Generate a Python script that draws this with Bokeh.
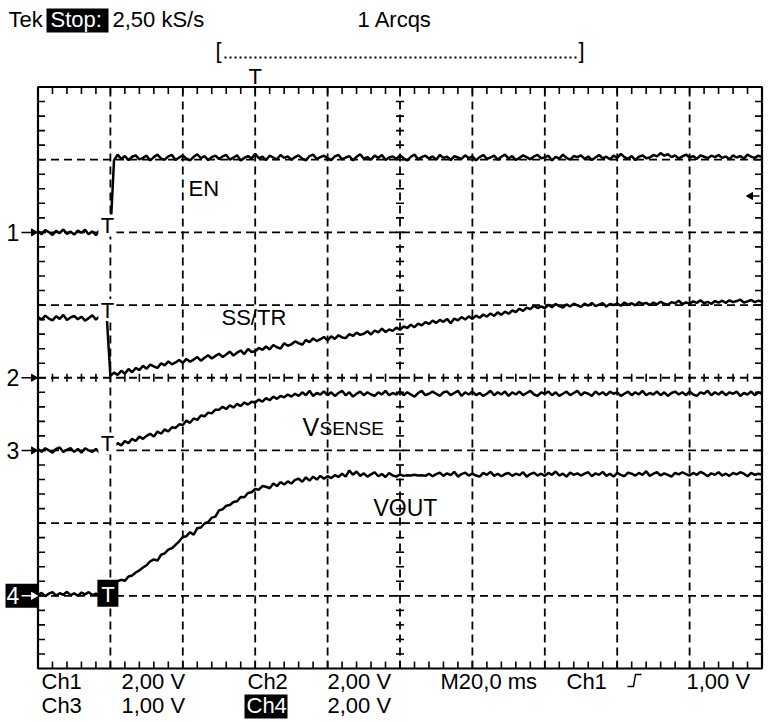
import numpy as np
from bokeh.plotting import figure
from bokeh.core.properties import value
from bokeh.embed import file_html
from bokeh.resources import INLINE

# ---------------- data ----------------
T_MS = list(range(-20, 181))  # sample times in ms, trigger at 0

EN_V = [
    0.03, -0.05, 0.06, 0.01, -0.07, 0.04, -0.02, 0.08, -0.04, 0.02,
    -0.06, 0.05, -0.01, 0.07, -0.05, 0.03, -0.08, 0.06, -0.02, 0.03,
    0.00, 1.98, 2.14, 2.02, 2.10, 1.99, 2.08, 2.12, 2.01, 2.05,
    2.11, 1.98, 2.07, 2.14, 2.03, 2.00, 2.09, 2.13, 1.99, 2.06,
    2.12, 2.03, 1.98, 2.08, 2.15, 2.04, 2.10, 1.99, 2.07, 2.11,
    2.02, 2.09, 2.13, 2.00, 2.06, 2.12, 1.98, 2.05, 2.10, 2.03,
    2.16, 2.04, 2.08, 1.99, 2.11, 2.06, 2.01, 2.13, 2.05, 2.09,
    2.00, 2.07, 2.12, 2.03, 1.98, 2.10, 2.14, 2.02, 2.07, 2.11,
    2.04, 1.99, 2.09, 2.13, 2.01, 2.06, 2.10, 1.98, 2.08, 2.15,
    2.03, 2.07, 2.00, 2.11, 2.05, 2.13, 1.99, 2.06, 2.09, 2.02,
    2.12, 2.04, 1.98, 2.08, 2.14, 2.01, 2.07, 2.11, 2.03, 2.09,
    2.00, 2.13, 2.05, 2.08, 1.99, 2.10, 2.06, 2.02, 2.12, 2.04,
    2.09, 1.98, 2.07, 2.13, 2.02, 2.06, 2.11, 2.00, 2.08, 2.14,
    2.03, 2.10, 1.99, 2.05, 2.12, 2.07, 2.01, 2.09, 2.13, 2.04,
    2.06, 2.11, 1.98, 2.08, 2.03, 2.14, 2.05, 2.00, 2.10, 2.07,
    2.12, 2.02, 2.09, 1.99, 2.06, 2.13, 2.04, 2.08, 2.01, 2.11,
    2.05, 2.16, 2.07, 2.02, 2.10, 1.99, 2.08, 2.12, 2.04, 2.06,
    2.13, 2.09, 2.18, 2.11, 2.15, 2.07, 2.12, 2.03, 2.09, 2.14,
    2.06, 2.10, 2.02, 2.12, 2.08, 2.04, 2.11, 2.07, 2.13, 2.05,
    2.09, 2.01, 2.12, 2.06, 2.10, 2.03, 2.14, 2.08, 2.05, 2.11,
    2.07,
]

SSTR_V = [
    1.67, 1.60, 1.71, 1.63, 1.58, 1.69, 1.62, 1.73, 1.59, 1.66,
    1.70, 1.61, 1.68, 1.57, 1.64, 1.72, 1.60, 1.69, 1.62, 1.66,
    0.05, 0.14, 0.08, 0.19, 0.11, 0.24, 0.15, 0.27, 0.21, 0.33,
    0.25, 0.36, 0.31, 0.27, 0.40, 0.34, 0.45, 0.37, 0.42, 0.49,
    0.41, 0.52, 0.44, 0.50, 0.57, 0.47, 0.55, 0.62, 0.53, 0.60,
    0.66, 0.57, 0.64, 0.72, 0.61, 0.69, 0.75, 0.65, 0.79, 0.71,
    0.73, 0.82, 0.77, 0.86, 0.78, 0.90, 0.84, 0.80, 0.95, 0.88,
    0.92, 1.00, 0.95, 0.91, 1.04, 0.98, 1.08, 1.01, 1.06, 1.12,
    1.03, 1.14, 1.07, 1.17, 1.11, 1.09, 1.20, 1.15, 1.24, 1.18,
    1.21, 1.28, 1.19, 1.30, 1.25, 1.35, 1.26, 1.33, 1.29, 1.38,
    1.32, 1.41, 1.37, 1.46, 1.39, 1.49, 1.44, 1.53, 1.48, 1.57,
    1.51, 1.59, 1.54, 1.62, 1.50, 1.63, 1.58, 1.67, 1.60, 1.69,
    1.62, 1.71, 1.65, 1.74, 1.68, 1.77, 1.70, 1.80, 1.73, 1.82,
    1.76, 1.85, 1.81, 1.90, 1.84, 1.93, 1.89, 1.98, 1.92, 1.96,
    1.92, 2.01, 1.94, 2.03, 1.97, 1.93, 2.02, 1.96, 2.04, 1.99,
    1.95, 2.04, 1.98, 2.06, 1.97, 2.01, 2.05, 1.96, 2.03, 2.00,
    2.04, 1.98, 2.07, 2.01, 2.05, 1.99, 2.08, 2.03, 2.06, 2.00,
    2.07, 2.02, 2.09, 2.04, 2.01, 2.08, 2.05, 2.12, 2.03, 2.07,
    2.04, 2.10, 2.06, 2.13, 2.05, 2.09, 2.03, 2.11, 2.07, 2.12,
    2.06, 2.13, 2.08, 2.11, 2.15, 2.07, 2.10, 2.14, 2.08, 2.12,
    2.10,
]

VSENSE_V = [
    0.02, -0.02, 0.03, 0.00, -0.03, 0.02, 0.04, -0.02, 0.01, 0.03,
    -0.02, 0.02, -0.03, 0.03, 0.00, -0.02, 0.02, -0.03, -0.02, -0.04,
    0.01, 0.06, 0.10, 0.07, 0.13, 0.10, 0.16, 0.13, 0.19, 0.16,
    0.20, 0.23, 0.19, 0.26, 0.23, 0.29, 0.26, 0.32, 0.31, 0.36,
    0.35, 0.41, 0.38, 0.44, 0.42, 0.48, 0.47, 0.52, 0.51, 0.56,
    0.56, 0.60, 0.57, 0.62, 0.59, 0.64, 0.61, 0.66, 0.63, 0.67,
    0.66, 0.70, 0.67, 0.72, 0.69, 0.74, 0.71, 0.75, 0.73, 0.77,
    0.74, 0.78, 0.75, 0.80, 0.76, 0.82, 0.75, 0.79, 0.77, 0.81,
    0.76, 0.80, 0.75, 0.79, 0.82, 0.76, 0.80, 0.74, 0.78, 0.81,
    0.76, 0.80, 0.77, 0.75, 0.80, 0.77, 0.82, 0.76, 0.79, 0.77,
    0.81, 0.76, 0.80, 0.77, 0.74, 0.79, 0.82, 0.76, 0.78, 0.81,
    0.78, 0.75, 0.80, 0.81, 0.76, 0.79, 0.82, 0.75, 0.80, 0.77,
    0.81, 0.76, 0.79, 0.75, 0.78, 0.82, 0.76, 0.80, 0.77, 0.81,
    0.75, 0.80, 0.77, 0.81, 0.76, 0.79, 0.82, 0.77, 0.75, 0.80,
    0.78, 0.81, 0.76, 0.80, 0.75, 0.78, 0.81, 0.76, 0.79, 0.82,
    0.76, 0.80, 0.78, 0.75, 0.81, 0.77, 0.80, 0.76, 0.81, 0.78,
    0.80, 0.75, 0.78, 0.81, 0.76, 0.80, 0.77, 0.82, 0.76, 0.79,
    0.77, 0.81, 0.76, 0.80, 0.75, 0.79, 0.81, 0.77, 0.80, 0.76,
    0.81, 0.77, 0.75, 0.80, 0.78, 0.82, 0.76, 0.80, 0.77, 0.81,
    0.76, 0.80, 0.78, 0.81, 0.75, 0.79, 0.77, 0.81, 0.76, 0.80,
    0.78,
]

VOUT_V = [
    0.02, 0.08, -0.01, 0.06, 0.10, 0.01, 0.07, 0.03, 0.11, 0.02,
    0.07, 0.00, 0.09, 0.04, 0.10, 0.02, 0.06, -0.01, 0.08, 0.04,
    0.15, 0.30, 0.40, 0.44, 0.41, 0.53, 0.56, 0.64, 0.70, 0.78,
    0.84, 0.95, 1.00, 0.97, 1.13, 1.17, 1.27, 1.31, 1.40, 1.50,
    1.62, 1.64, 1.75, 1.68, 1.86, 1.88, 1.99, 2.03, 2.15, 2.18,
    2.35, 2.38, 2.48, 2.50, 2.58, 2.60, 2.72, 2.71, 2.83, 2.85,
    2.94, 2.92, 3.02, 3.00, 2.96, 3.09, 3.02, 3.13, 3.06, 3.15,
    3.09, 3.19, 3.22, 3.14, 3.26, 3.17, 3.28, 3.20, 3.30, 3.22,
    3.29, 3.24, 3.32, 3.27, 3.36, 3.28, 3.45, 3.33, 3.42, 3.30,
    3.37, 3.28, 3.34, 3.40, 3.29, 3.35, 3.27, 3.38, 3.31, 3.28,
    3.34, 3.30, 3.32, 3.31, 3.33, 3.31, 3.32, 3.30, 3.36, 3.29,
    3.35, 3.39, 3.30, 3.37, 3.32, 3.41, 3.28, 3.35, 3.39, 3.31,
    3.36, 3.31, 3.28, 3.38, 3.33, 3.41, 3.30, 3.36, 3.29, 3.35,
    3.38, 3.30, 3.36, 3.32, 3.40, 3.28, 3.35, 3.39, 3.31, 3.36,
    3.30, 3.38, 3.33, 3.42, 3.31, 3.36, 3.28, 3.39, 3.33, 3.37,
    3.31, 3.36, 3.40, 3.29, 3.37, 3.33, 3.41, 3.30, 3.36, 3.28,
    3.38, 3.33, 3.29, 3.39, 3.36, 3.31, 3.38, 3.33, 3.43, 3.30,
    3.36, 3.40, 3.31, 3.37, 3.33, 3.28, 3.38, 3.34, 3.40, 3.35,
    3.31, 3.38, 3.33, 3.41, 3.36, 3.29, 3.37, 3.33, 3.40, 3.31,
    3.36, 3.30, 3.38, 3.34, 3.40, 3.36, 3.29, 3.38, 3.33, 3.36,
    3.34,
]

CH_NAMES = ["Ch1", "Ch2", "Ch3", "Ch4"]
CH_VOLTS_PER_DIV = [2.0, 2.0, 1.0, 2.0]
CH_GROUND_DIV = [6, 4, 3, 1]
CH_MARKERS = ["1", "2", "3", "4"]
TRACE_VALUES = [EN_V, SSTR_V, VSENSE_V, VOUT_V]
MS_PER_DIV = 20.0
TIME_START_MS = -20
TRIGGER_MS = 0
TRIGGER_LEVEL_V = 1.0
TOP_MARKER_MS = 40
H_DIVS = 10
V_DIVS = 8

# ---------------- layout ----------------
W, H = 773, 722
BOX_L, BOX_R, BOX_T, BOX_B = 37.5, 761.5, 86.5, 668.0  # graticule in px
PX_MS = (BOX_R - BOX_L) / (H_DIVS * MS_PER_DIV)
PX_DIV = (BOX_B - BOX_T) / V_DIVS


def X(px):
    return TIME_START_MS + (px - BOX_L) / PX_MS


def Y(py):
    return (BOX_B - py) / PX_DIV


def px_of_t(t):
    return BOX_L + (t - TIME_START_MS) * PX_MS


def py_of_div(d):
    return BOX_B - d * PX_DIV


T_END = TIME_START_MS + H_DIVS * MS_PER_DIV

p = figure(width=W, height=H, x_range=(X(0), X(W)),
           y_range=(Y(H), Y(0)), output_backend="svg",
           toolbar_location=None, x_axis_type=None, y_axis_type=None,
           min_border=0)
p.outline_line_color = None
p.background_fill_color = "white"
p.border_fill_color = "white"

FONT = value("Liberation Sans")


def txt(px, py, s, size=22, color="black", align="left"):
    # py is the baseline in px; drawn with a middle baseline
    p.text(x=[X(px)], y=[Y(py - 0.346 * size)], text=[s], text_font=FONT,
           text_font_size=f"{size}px", text_color=color,
           text_align=align, text_baseline="middle")


def box(l, t, r, b, color="black"):
    p.quad(left=[X(l)], right=[X(r)], top=[Y(t)], bottom=[Y(b)],
           fill_color=color, line_color=None)


# ---- dashed graticule ----
gx = [TIME_START_MS + i * MS_PER_DIV for i in range(1, H_DIVS)]
gy = list(range(1, V_DIVS))
p.segment(x0=gx, y0=[0] * len(gx), x1=gx, y1=[V_DIVS] * len(gx),
          line_color="black", line_width=1.8, line_dash="8 5")
p.segment(x0=[TIME_START_MS] * len(gy), y0=gy, x1=[T_END] * len(gy), y1=gy,
          line_color="black", line_width=1.8, line_dash="8 5")

# ---- minor ticks on border and center lines ----
tx = [TIME_START_MS + k * MS_PER_DIV / 5 for k in range(1, H_DIVS * 5)]
ty = [k / 5 for k in range(1, V_DIVS * 5)]
dlx = 7 / PX_MS
dly = 7 / PX_DIV
clx = 4 / PX_MS
cly = 4 / PX_DIV
x0, y0, x1, y1 = [], [], [], []
for t in tx:
    x0 += [t, t, t]
    x1 += [t, t, t]
    y0 += [V_DIVS, 0, V_DIVS / 2 - cly]
    y1 += [V_DIVS - dly, dly, V_DIVS / 2 + cly]
tc = TIME_START_MS + H_DIVS / 2 * MS_PER_DIV
for d in ty:
    y0 += [d, d, d]
    y1 += [d, d, d]
    x0 += [TIME_START_MS, T_END, tc - clx]
    x1 += [TIME_START_MS + dlx, T_END - dlx, tc + clx]
p.segment(x0=x0, y0=y0, x1=x1, y1=y1, line_color="black", line_width=1.6)

# ---- border ----
p.quad(left=[TIME_START_MS], right=[T_END], bottom=[0], top=[V_DIVS],
       fill_color=None, line_color="black", line_width=2.2)

# ---- traces ----
for vals, g, s in zip(TRACE_VALUES, CH_GROUND_DIV, CH_VOLTS_PER_DIV):
    yv = g + np.array(vals) / s
    p.line(T_MS, yv, line_color="black", line_width=2.5)

# ---- trigger 'T' markers on traces ----
trig_px = px_of_t(TRIGGER_MS)
pre_level_py = [py_of_div(CH_GROUND_DIV[0]),
                py_of_div(CH_GROUND_DIV[1] + SSTR_V[0] / CH_VOLTS_PER_DIV[1]),
                py_of_div(CH_GROUND_DIV[2])]
for lvl in pre_level_py:
    box(trig_px - 12, lvl - 18, trig_px + 6, lvl + 4, "white")
    txt(trig_px - 3, lvl + 1, "T", 22, align="center")
g4 = py_of_div(CH_GROUND_DIV[3])
box(trig_px - 13, g4 - 16, trig_px + 8, g4 + 11)
txt(trig_px - 2.5, g4 + 6, "T", 22, "white", align="center")

# ---- channel ground markers on the left ----
for i, (m, g) in enumerate(zip(CH_MARKERS, CH_GROUND_DIV)):
    gpy = py_of_div(g)
    col = "white" if i == 3 else "black"
    if i == 3:
        box(5, gpy - 12, 37, gpy + 12)
    txt(6, gpy + 8, m, 23, col)
    p.segment(x0=[X(21)], y0=[g], x1=[X(33)], y1=[g], line_color=col,
              line_width=1.5)
    p.scatter(x=[X(33)], y=[g], marker="triangle", size=7, angle=-np.pi / 2,
              fill_color=col, line_color=col)

# ---- trigger level arrow on the right ----
tl = CH_GROUND_DIV[0] + TRIGGER_LEVEL_V / CH_VOLTS_PER_DIV[0]
p.segment(x0=[X(750)], y0=[tl], x1=[X(759)], y1=[tl], line_color="black",
          line_width=1.5)
p.scatter(x=[X(750)], y=[tl], marker="triangle", size=7, angle=np.pi / 2,
          fill_color="black", line_color="black")

# ---- trace labels ----
txt(188, 196, "EN", 22)
txt(221, 325, "SS/TR", 22)
txt(302, 435, "V", 25)
txt(319, 435, "SENSE", 19)
txt(373, 515, "VOUT", 23)

# ---- header ----
txt(8, 27, "Tek", 22)
box(46, 8, 108, 32)
txt(50, 27, "Stop:", 22, "white")
txt(112, 27, "2,50 kS/s", 22)
txt(357, 27, "1 Arcqs", 22)
txt(215, 58, "[", 22)
p.segment(x0=[X(224)], y0=[Y(57)], x1=[X(577)], y1=[Y(57)],
          line_color="black", line_width=2, line_dash="2 3")
txt(578, 58, "]", 22)
txt(px_of_t(TOP_MARKER_MS), 84, "T", 22, align="center")

# ---- footer ----
R1, R2 = 689, 713
txt(41, R1, "Ch1", 22)
txt(121, R1, "2,00 V", 22)
txt(247, R1, "Ch2", 22)
txt(327, R1, "2,00 V", 22)
txt(440, R1, "M20,0 ms", 22)
txt(566, R1, "Ch1", 22)
ex = [X(627), X(633), X(635), X(641)]
ey = [Y(686), Y(686), Y(674), Y(674)]
p.line(ex, ey, line_color="black", line_width=1.5)
txt(686, R1, "1,00 V", 22)
txt(41, R2, "Ch3", 22)
txt(121, R2, "1,00 V", 22)
box(244, 694, 287, 718)
txt(246, R2, "Ch4", 22, "white")
txt(327, R2, "2,00 V", 22)

open("out.html", "w").write(file_html(p, INLINE))
